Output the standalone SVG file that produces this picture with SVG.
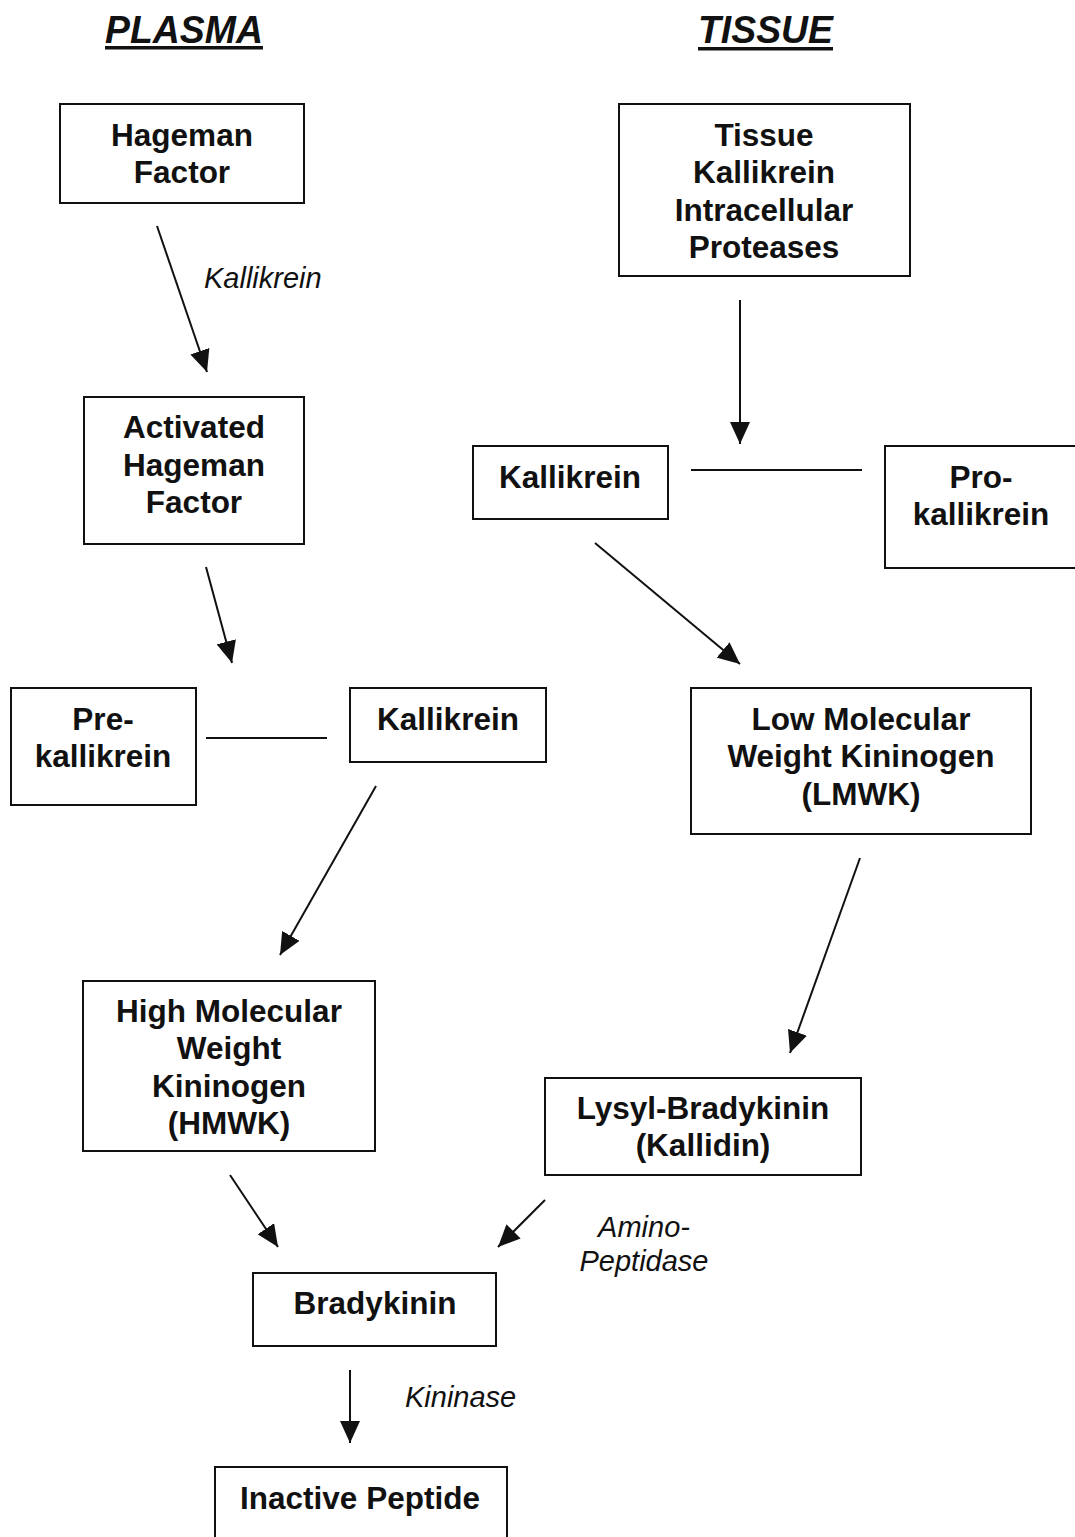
<svg xmlns="http://www.w3.org/2000/svg" width="1075" height="1537" viewBox="0 0 1075 1537">
<style>
.box{fill:#fff;stroke:#111;stroke-width:2}
.t{font-family:"Liberation Sans",Arial,sans-serif;font-weight:bold;font-size:31.5px;fill:#111;text-anchor:middle}
.lab{font-family:"Liberation Sans",Arial,sans-serif;font-style:italic;font-size:29px;fill:#111}
.h{font-family:"Liberation Sans",Arial,sans-serif;font-style:italic;font-weight:bold;font-size:38px;fill:#111}
.c{stroke:#111;stroke-width:2;fill:none}
</style>
<defs>
<marker id="ah" markerUnits="userSpaceOnUse" markerWidth="24" markerHeight="20" refX="22" refY="10" orient="auto">
<path d="M0,0 L22,10 L0,20 Z" fill="#111"/>
</marker>
</defs>
<g id="titles">
<text class="h" x="105" y="43" textLength="158" lengthAdjust="spacingAndGlyphs">PLASMA</text>
<rect x="105" y="46" width="158" height="3.5" fill="#111"/>
<text class="h" x="698" y="43" textLength="135" lengthAdjust="spacingAndGlyphs">TISSUE</text>
<rect x="698" y="47" width="135" height="3.5" fill="#111"/>
</g>
<g id="connectors">
<line class="c" x1="157" y1="226" x2="207" y2="372" marker-end="url(#ah)"/>
<line class="c" x1="740" y1="300" x2="740" y2="444" marker-end="url(#ah)"/>
<line class="c" x1="691" y1="470" x2="862" y2="470"/>
<line class="c" x1="206" y1="567" x2="232" y2="663" marker-end="url(#ah)"/>
<line class="c" x1="206" y1="738" x2="327" y2="738"/>
<line class="c" x1="595" y1="543" x2="740" y2="664" marker-end="url(#ah)"/>
<line class="c" x1="376" y1="786" x2="280" y2="955" marker-end="url(#ah)"/>
<line class="c" x1="860" y1="858" x2="790" y2="1053" marker-end="url(#ah)"/>
<line class="c" x1="230" y1="1175" x2="278" y2="1247" marker-end="url(#ah)"/>
<line class="c" x1="545" y1="1200" x2="498" y2="1247" marker-end="url(#ah)"/>
<line class="c" x1="350" y1="1370" x2="350" y2="1443" marker-end="url(#ah)"/>
<text class="lab" x="204" y="288">Kallikrein</text>
<text class="lab" x="644" y="1237" text-anchor="middle">Amino-</text>
<text class="lab" x="644" y="1271" text-anchor="middle">Peptidase</text>
<text class="lab" x="405" y="1407">Kininase</text>
</g>
<g id="hageman">
<rect class="box" x="60" y="104" width="244" height="99"/>
<text class="t" x="182" y="146">Hageman</text>
<text class="t" x="182" y="183">Factor</text>
</g>
<g id="tissue-kallikrein">
<rect class="box" x="619" y="104" width="291" height="172"/>
<text class="t" x="764" y="146">Tissue</text>
<text class="t" x="764" y="183">Kallikrein</text>
<text class="t" x="764" y="221">Intracellular</text>
<text class="t" x="764" y="258">Proteases</text>
</g>
<g id="activated-hageman">
<rect class="box" x="84" y="397" width="220" height="147"/>
<text class="t" x="194" y="438">Activated</text>
<text class="t" x="194" y="476">Hageman</text>
<text class="t" x="194" y="513">Factor</text>
</g>
<g id="kallikrein-tissue">
<rect class="box" x="473" y="446" width="195" height="73"/>
<text class="t" x="570" y="488">Kallikrein</text>
</g>
<g id="prokallikrein">
<rect class="box" x="885" y="446" width="192" height="122"/>
<text class="t" x="981" y="488">Pro-</text>
<text class="t" x="981" y="525">kallikrein</text>
</g>
<g id="prekallikrein">
<rect class="box" x="11" y="688" width="185" height="117"/>
<text class="t" x="103" y="730">Pre-</text>
<text class="t" x="103" y="767">kallikrein</text>
</g>
<g id="kallikrein-plasma">
<rect class="box" x="350" y="688" width="196" height="74"/>
<text class="t" x="448" y="730">Kallikrein</text>
</g>
<g id="lmwk">
<rect class="box" x="691" y="688" width="340" height="146"/>
<text class="t" x="861" y="730">Low Molecular</text>
<text class="t" x="861" y="767">Weight Kininogen</text>
<text class="t" x="861" y="805">(LMWK)</text>
</g>
<g id="hmwk">
<rect class="box" x="83" y="981" width="292" height="170"/>
<text class="t" x="229" y="1022">High Molecular</text>
<text class="t" x="229" y="1059">Weight</text>
<text class="t" x="229" y="1097">Kininogen</text>
<text class="t" x="229" y="1134">(HMWK)</text>
</g>
<g id="lysyl-bradykinin">
<rect class="box" x="545" y="1078" width="316" height="97"/>
<text class="t" x="703" y="1119">Lysyl-Bradykinin</text>
<text class="t" x="703" y="1156">(Kallidin)</text>
</g>
<g id="bradykinin">
<rect class="box" x="253" y="1273" width="243" height="73"/>
<text class="t" x="375" y="1314">Bradykinin</text>
</g>
<g id="inactive-peptide">
<rect class="box" x="215" y="1467" width="292" height="90"/>
<text class="t" x="360" y="1509">Inactive Peptide</text>
</g>
</svg>
